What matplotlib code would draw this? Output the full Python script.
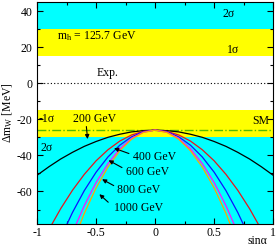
import matplotlib.pyplot as plt
import numpy as np
from matplotlib.ticker import MultipleLocator

plt.rcParams['font.family'] = ['Liberation Serif', 'DejaVu Serif']
plt.rcParams['font.size'] = 8.5
plt.rcParams['mathtext.fontset'] = 'custom'
plt.rcParams['mathtext.rm'] = 'Liberation Serif'
plt.rcParams['mathtext.it'] = 'Liberation Serif'
plt.rcParams['mathtext.default'] = 'rm'

# sin(alpha) sample points, symmetric around 0
sina = np.round(np.arange(-1.0, 1.01, 0.1), 2)

# Delta m_W [MeV] (positive half, mirrored)
half_200 = [-26.0, -26.3, -27.0, -28.3, -30.0, -32.3, -35.0, -38.3, -42.0, -46.3, -51.0]
half_400 = [-26.0, -26.7, -28.7, -32.1, -36.9, -43.0, -50.5, -59.3, -69.5, -81.1, -94.0]
half_600 = [-26.0, -26.9, -29.7, -34.4, -40.9, -49.3, -59.5, -71.6, -85.5, -101.0, -119.0]
half_800 = [-26.0, -27.2, -30.6, -36.4, -44.6, -55.0, -67.8, -82.8, -100.0, -120.0, -142.0]
half_1000 = [-26.0, -27.3, -31.1, -37.5, -46.5, -58.0, -72.1, -88.7, -108.0, -130.0, -154.0]

masses = ["200 GeV", "400 GeV", "600 GeV", "800 GeV", "1000 GeV"]
colors = ["black", "#e8141c", "#1010ff", "#ff10ff", "#ffa500"]
halves = [half_200, half_400, half_600, half_800, half_1000]

sm_value = -26.0
exp_value = 0.0
sigma1 = 15.0
sigma2 = 30.0

fig = plt.figure(figsize=(2.77, 2.48), dpi=100)
ax = fig.add_axes([0.134, 0.097, 0.852, 0.895])

ylo, yhi = -78, 45
ax.axhspan(ylo, yhi, color="#00ffff", lw=0, zorder=0)
ax.axhspan(exp_value - sigma2, exp_value + sigma2, color="#ffff00", lw=0, zorder=0)
ax.axhspan(exp_value - sigma1, exp_value + sigma1, color="white", lw=0, zorder=0)

ax.axhline(exp_value, color="black", ls=(0, (1, 2)), lw=0.8)
ax.axhline(sm_value, color="#55bb00", ls="-.", lw=1.0)

for half, c in zip(halves, colors):
    vals = half[::-1] + half[1:]
    ax.plot(sina, vals, color=c, lw=0.9)

ax.set_xlim(-1, 1)
ax.set_ylim(ylo, yhi)
ax.xaxis.set_minor_locator(MultipleLocator(0.25))
ax.yaxis.set_minor_locator(MultipleLocator(10))
ax.set_xticks([-1, -0.5, 0, 0.5, 1])
ax.set_xticklabels(["-1", "-0.5", "0", "0.5", "1"])
ax.set_yticks([-60, -40, -20, 0, 20, 40])
ax.set_yticklabels(["-60", "-40", "-20", "0", "20", "40"])
ax.tick_params(which="both", direction="in", top=True, right=True)
ax.tick_params(which="major", length=4, width=0.8)
ax.tick_params(which="minor", length=2, width=0.8)
ax.tick_params(axis="x", pad=2)

ax.set_ylabel("Δm$_\\mathrm{W}$ [MeV]", labelpad=1)
fig.text(0.965, 0.003, "sinα", ha="right", va="bottom")

ax.text(-0.83, 26.3, "m$_\\mathrm{h}$ = 125.7 GeV", va="center")
ax.text(0.62, 38.4, "2σ", ha="center", va="center")
ax.text(0.66, 18.6, "1σ", ha="center", va="center")
ax.text(-0.4, 5.5, "Exp.", ha="center", va="center")
ax.text(-0.99, -20, "-1σ", ha="left", va="center")
ax.text(-0.97, -36, "2σ", ha="left", va="center")
ax.text(0.97, -21, "SM", ha="right", va="center")
ax.text(-0.51, -20, masses[0], ha="center", va="center")

ax.annotate("", xy=(-0.57, -32.5), xytext=(-0.585, -22.5),
            arrowprops=dict(arrowstyle="-|>", color="black", lw=0.8,
                            mutation_scale=6))
labels_pos = [(-0.19, -41), (-0.25, -49), (-0.32, -59), (-0.35, -69)]
tips = [(-0.37, -35.5), (-0.415, -42.0), (-0.47, -52.5), (-0.49, -60.5)]
tails = [(-0.2, -39.5), (-0.26, -47.5), (-0.33, -57.5), (-0.38, -67)]
for m, lp, tp, tl in zip(masses[1:], labels_pos, tips, tails):
    ax.text(lp[0], lp[1], m, ha="left", va="center")
    ax.annotate("", xy=tp, xytext=tl,
                arrowprops=dict(arrowstyle="-|>", color="black", lw=0.8,
                                mutation_scale=6))

fig.savefig("out.png", dpi=100)
